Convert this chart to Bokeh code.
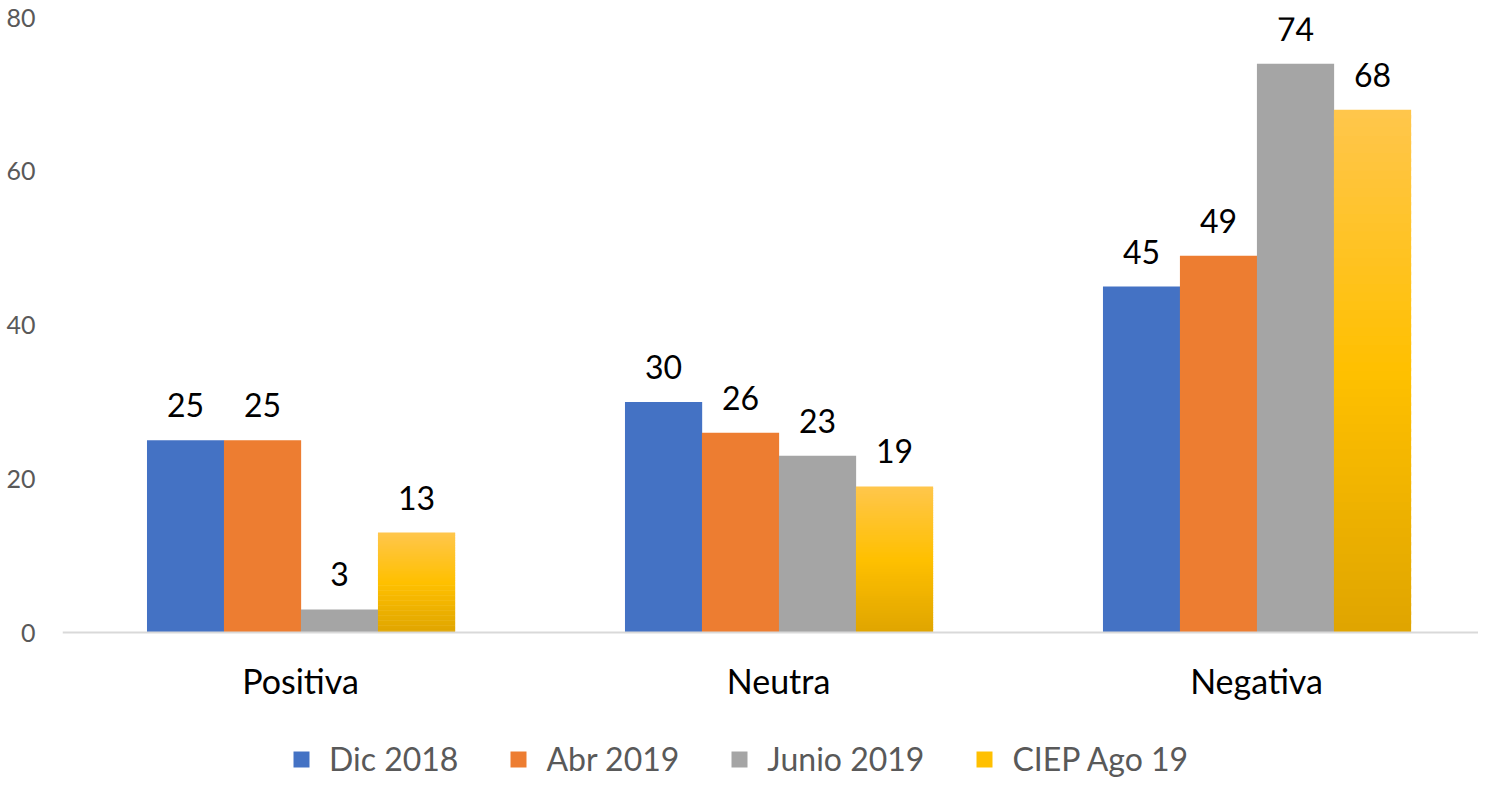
from bokeh.plotting import figure
from bokeh.models import Range1d, ColumnDataSource, Legend, LegendItem, FixedTicker, Span
from bokeh.core.properties import value
from bokeh.embed import file_html
from bokeh.resources import INLINE

categories = ["Positiva", "Neutra", "Negativa"]
series_names = ["Dic 2018", "Abr 2019", "Junio 2019", "CIEP Ago 19"]
dic_2018 = [25, 30, 45]
abr_2019 = [25, 26, 49]
junio_2019 = [3, 23, 74]
ciep_ago_19 = [13, 19, 68]
y_ticks = [0, 20, 40, 60, 80]

colors = ["#4472C4", "#ED7D31", "#A5A5A5", "#FFC000"]
offsets = [-0.2405, -0.0795, 0.0816, 0.2427]
bar_w = 0.1615
FONT = "Lato"

# frame extends to the bottom of the figure so the legend can sit inside it
Y_BOTTOM = -19.12
p = figure(width=1478, height=779, output_backend="svg", toolbar_location=None,
           x_range=Range1d(-0.498, 2.4644), y_range=Range1d(Y_BOTTOM, 80),
           min_border_left=62, min_border_right=0, min_border_top=17,
           min_border_bottom=0)
p.outline_line_color = None
p.grid.visible = False
p.background_fill_color = "white"
p.xaxis.visible = False

xs = list(range(len(categories)))
legend_items = []
for name, vals, col, off in zip(series_names[:3], [dic_2018, abr_2019, junio_2019], colors[:3], offsets[:3]):
    src = ColumnDataSource(dict(x=[i + off for i in xs], top=vals))
    r = p.vbar(x="x", top="top", width=bar_w, bottom=0, source=src,
               fill_color=col, line_color=None)
    legend_items.append(LegendItem(label=name, renderers=[r]))

# gradient yellow bars
def lerp(c1, c2, t):
    a = [int(c1[i:i + 2], 16) for i in (1, 3, 5)]
    b = [int(c2[i:i + 2], 16) for i in (1, 3, 5)]
    return "#%02x%02x%02x" % tuple(int(round(a[k] + (b[k] - a[k]) * t)) for k in range(3))

c_bot, c_mid, c_top = "#DFA500", "#FFC000", "#FFC64C"
N = 60
gx, gb, gt, gc = [], [], [], []
for i, v in zip(xs, ciep_ago_19):
    for k in range(N):
        t = (k + 0.5) / N
        col = lerp(c_bot, c_mid, t / 0.5) if t < 0.5 else lerp(c_mid, c_top, (t - 0.5) / 0.5)
        gx.append(i + offsets[3])
        gb.append(v * k / N)
        gt.append(min(v, v * (k + 1.4) / N))
        gc.append(col)
ry = p.vbar(x=gx, bottom=gb, top=gt, width=bar_w, fill_color=gc, line_color=None)
legend_items.append(LegendItem(label=series_names[3], renderers=[ry], index=N // 2))

# baseline (category axis line)
p.add_layout(Span(location=0, dimension="width", line_color="#D9D9D9", line_width=2))

# category labels
p.text(x=xs, y=[0] * len(xs), text=categories, text_align="center",
       text_baseline="alphabetic", y_offset=48, text_font=value(FONT),
       text_font_size="34px", text_color="#000000")

# data labels
all_vals = [dic_2018, abr_2019, junio_2019, ciep_ago_19]
lx, ly, lt = [], [], []
for vals, off in zip(all_vals, offsets):
    for i, v in zip(xs, vals):
        lx.append(i + off)
        ly.append(v)
        lt.append(str(v))
p.text(x=lx, y=ly, text=lt, text_align="center", text_baseline="alphabetic",
       y_offset=-35, text_font=value(FONT), text_font_size="32px", text_color="#000000")

# y axis
p.yaxis.ticker = FixedTicker(ticks=y_ticks)
p.yaxis.axis_line_color = None
p.yaxis.major_tick_line_color = None
p.yaxis.minor_tick_line_color = None
p.yaxis.major_tick_out = 0
p.yaxis.major_label_standoff = 27
p.yaxis.major_label_text_font = FONT
p.yaxis.major_label_text_font_size = "25px"
p.yaxis.major_label_text_color = "#595959"

legend = Legend(items=legend_items,
                orientation="horizontal", location=(229, 1),
                label_text_font=FONT, label_text_font_size="32px", label_text_color="#595959",
                glyph_width=20, glyph_height=20, label_standoff=18, spacing=50,
                padding=0, margin=0, border_line_alpha=0, background_fill_alpha=0)
p.add_layout(legend, "center")

open("out.html", "w").write(file_html(p, INLINE))
